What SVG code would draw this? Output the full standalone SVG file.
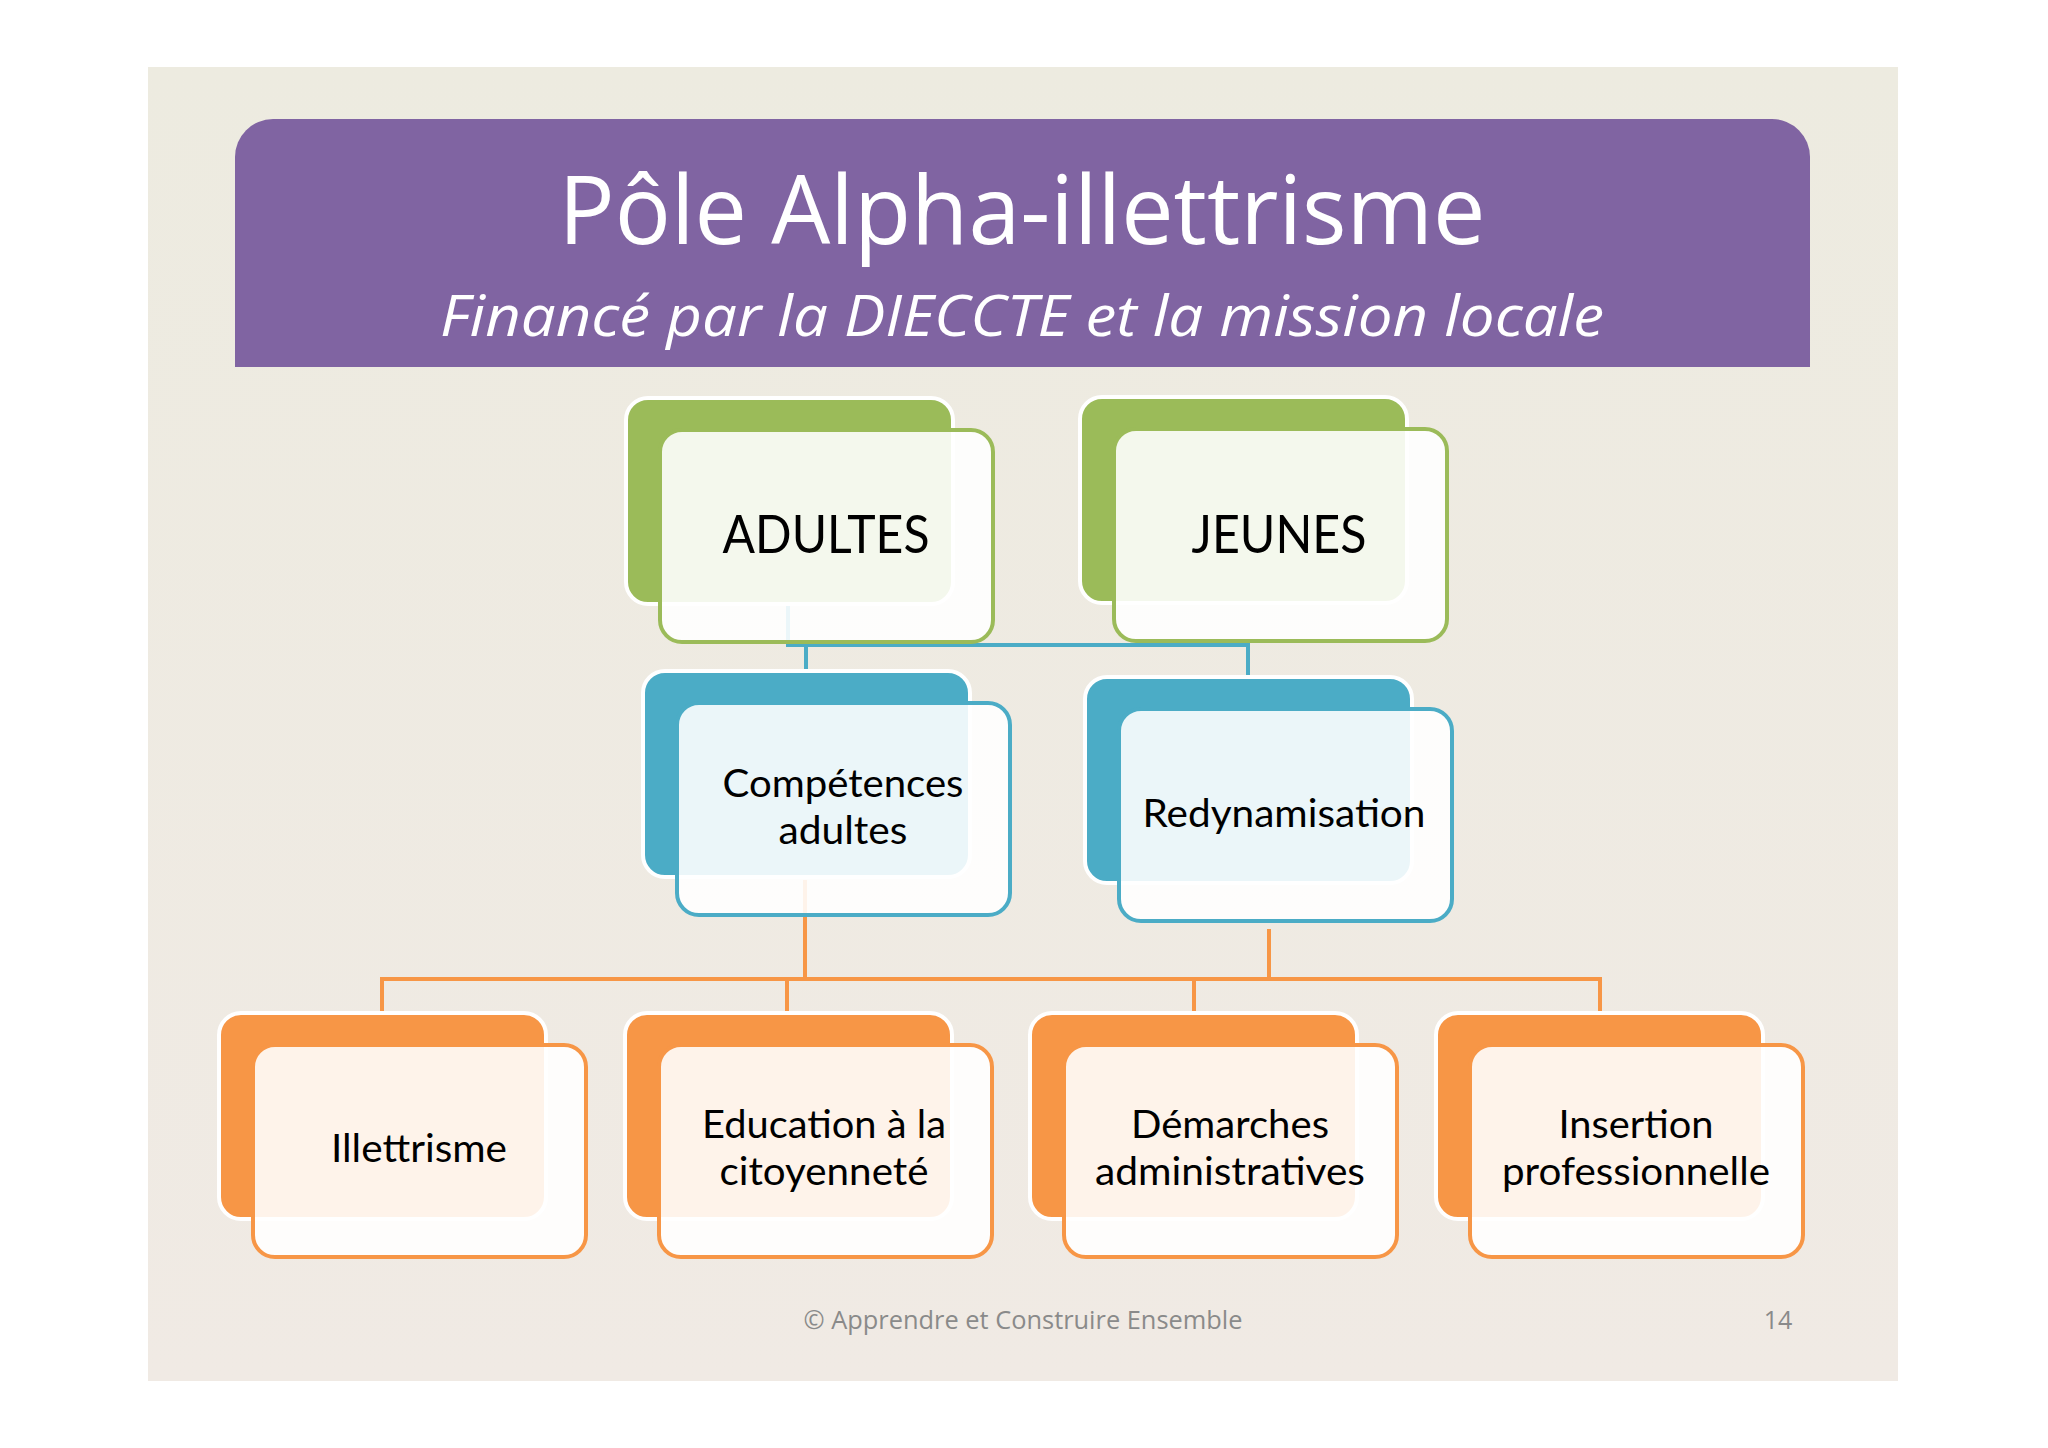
<svg xmlns="http://www.w3.org/2000/svg" width="2048" height="1448" viewBox="0 0 2048 1448">
<defs>
<linearGradient id="bg" x1="0" y1="0" x2="0" y2="1">
<stop offset="0" stop-color="#EDEBE0"/>
<stop offset="1" stop-color="#F0EAE4"/>
</linearGradient>
<style>
.t{font-family:Lato,"Open Sans","Liberation Sans",sans-serif;text-anchor:middle;fill:#000}
.back{stroke:#fff;stroke-width:4}
.front{stroke-width:4;fill:#fff;fill-opacity:0.89}
.g .back{fill:#9BBB59}.g .front{stroke:#9BBB59}
.b .back{fill:#4BACC6}.b .front{stroke:#4BACC6}
.o .back{fill:#F79646}.o .front{stroke:#F79646}
.conn{fill:none;stroke-width:4}
</style>
</defs>
<rect x="0" y="0" width="2048" height="1448" fill="#fff"/>
<rect x="148" y="67" width="1750" height="1314" fill="url(#bg)"/>
<g id="header">
<path d="M235,367 V157 A38,38 0 0 1 273,119 H1772 A38,38 0 0 1 1810,157 V367 Z" fill="#8064A2"/>
<text x="1022" y="244" font-family="'Open Sans','Liberation Sans',sans-serif" font-size="95" fill="#fff" text-anchor="middle" textLength="927" lengthAdjust="spacingAndGlyphs">Pôle Alpha-illettrisme</text>
<text x="1022" y="336" font-family="'Open Sans','Liberation Sans',sans-serif" font-size="57" font-style="italic" fill="#fff" text-anchor="middle" textLength="1164" lengthAdjust="spacingAndGlyphs">Financé par la DIECCTE et la mission locale</text>
</g>
<g id="connectors">
<path class="conn" stroke="#4BACC6" d="M788,606 V645 H1248 V677 M806,645 V672"/>
<path class="conn" stroke="#F79646" d="M805,880 V979 M1269,929 V979 M382,1011 V979 H1600 V1011 M787,979 V1011 M1194,979 V1011"/>
</g>
<g id="n-adultes" class="g">
<rect class="back" x="626" y="398" width="327" height="206" rx="22"/>
<rect class="front" x="660" y="430" width="333" height="212" rx="22"/>
<text class="t" x="826" y="553" font-size="53" textLength="207" lengthAdjust="spacingAndGlyphs">ADULTES</text>
</g>
<g id="n-jeunes" class="g">
<rect class="back" x="1080" y="397" width="327" height="206" rx="22"/>
<rect class="front" x="1114" y="429" width="333" height="212" rx="22"/>
<text class="t" x="1279" y="553" font-size="53" textLength="175" lengthAdjust="spacingAndGlyphs">JEUNES</text>
</g>
<g id="n-competences" class="b">
<rect class="back" x="643" y="671" width="327" height="206" rx="22"/>
<rect class="front" x="677" y="703" width="333" height="212" rx="22"/>
<text class="t" font-size="38"><tspan x="843" y="797" textLength="241" lengthAdjust="spacingAndGlyphs">Compétences</tspan><tspan x="843" y="844" textLength="129" lengthAdjust="spacingAndGlyphs">adultes</tspan></text>
</g>
<g id="n-redynamisation" class="b">
<rect class="back" x="1085" y="677" width="327" height="206" rx="22"/>
<rect class="front" x="1119" y="709" width="333" height="212" rx="22"/>
<text class="t" x="1284" y="827" font-size="38" textLength="283" lengthAdjust="spacingAndGlyphs">Redynamisation</text>
</g>
<g id="n-illettrisme" class="o">
<rect class="back" x="219" y="1013" width="327" height="206" rx="22"/>
<rect class="front" x="253" y="1045" width="333" height="212" rx="22"/>
<text class="t" x="419" y="1162" font-size="38" textLength="176" lengthAdjust="spacingAndGlyphs">Illettrisme</text>
</g>
<g id="n-education" class="o">
<rect class="back" x="625" y="1013" width="327" height="206" rx="22"/>
<rect class="front" x="659" y="1045" width="333" height="212" rx="22"/>
<text class="t" font-size="38"><tspan x="824" y="1138" textLength="244" lengthAdjust="spacingAndGlyphs">Education à la</tspan><tspan x="824" y="1185" textLength="209" lengthAdjust="spacingAndGlyphs">citoyenneté</tspan></text>
</g>
<g id="n-demarches" class="o">
<rect class="back" x="1030" y="1013" width="327" height="206" rx="22"/>
<rect class="front" x="1064" y="1045" width="333" height="212" rx="22"/>
<text class="t" font-size="38"><tspan x="1230" y="1138" textLength="198" lengthAdjust="spacingAndGlyphs">Démarches</tspan><tspan x="1230" y="1185" textLength="270" lengthAdjust="spacingAndGlyphs">administratives</tspan></text>
</g>
<g id="n-insertion" class="o">
<rect class="back" x="1436" y="1013" width="327" height="206" rx="22"/>
<rect class="front" x="1470" y="1045" width="333" height="212" rx="22"/>
<text class="t" font-size="38"><tspan x="1636" y="1138" textLength="155" lengthAdjust="spacingAndGlyphs">Insertion</tspan><tspan x="1636" y="1185" textLength="268" lengthAdjust="spacingAndGlyphs">professionnelle</tspan></text>
</g>
<g id="footer">
<text x="1023" y="1329" font-family="'Open Sans','Liberation Sans',sans-serif" font-size="25" fill="#8A8A8A" text-anchor="middle" textLength="439" lengthAdjust="spacingAndGlyphs">© Apprendre et Construire Ensemble</text>
<text x="1778" y="1329" font-family="'Open Sans','Liberation Sans',sans-serif" font-size="25" fill="#8A8A8A" text-anchor="middle">14</text>
</g>
</svg>
